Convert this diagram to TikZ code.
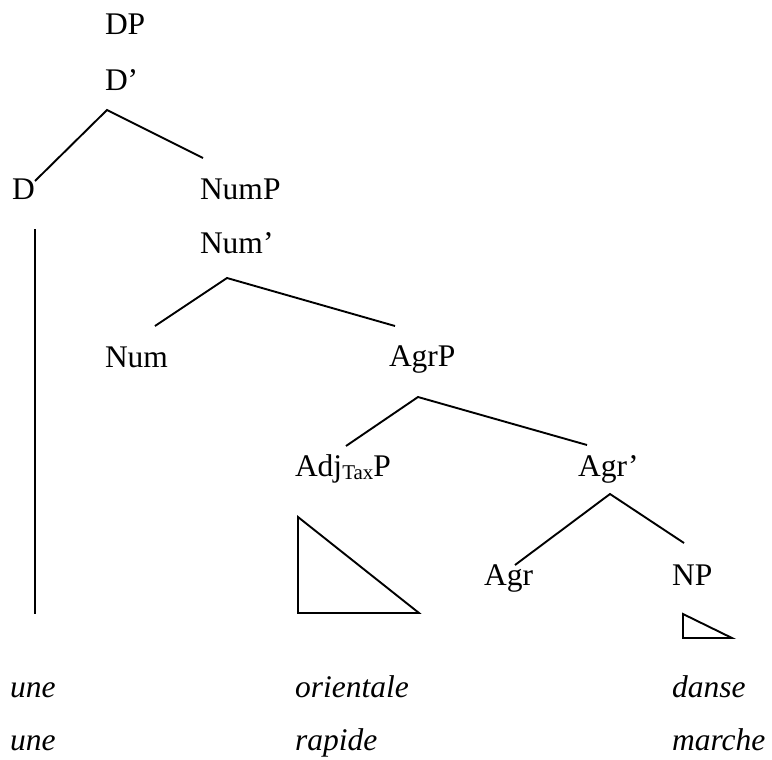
\documentclass[tikz,border=0pt]{standalone}
\usepackage{fontspec}
\setmainfont{Liberation Serif}
\begin{document}
\begin{tikzpicture}[x=1bp,y=-1bp,
  lbl/.style={anchor=base west,inner sep=0pt,outer sep=0pt,font=\fontsize{31.5bp}{36bp}\selectfont},
  word/.style={lbl,font=\fontsize{31.5bp}{36bp}\selectfont\itshape},
  branch/.style={line width=1.9bp,line cap=butt,line join=miter},
  tri/.style={line width=1.9bp,line join=miter}]
\useasboundingbox (0,0) rectangle (772,760);
% labels
\node[lbl] (DP) at (105,35) {DP};
\node[lbl] (Dbar) at (105,90) {D’};
\node[lbl] (D) at (12,199) {D};
\node[lbl] (NumP) at (200,199) {NumP};
\node[lbl] (Numbar) at (200,253) {Num’};
\node[lbl] (Num) at (105,367) {Num};
\node[lbl] (AgrP) at (389,366) {AgrP};
\node[lbl] (Adj) at (295,476) {Adj\raisebox{-3.5bp}{\fontsize{21bp}{21bp}\selectfont Tax}P};
\node[lbl] (Agrbar) at (578,476) {Agr’};
\node[lbl] (Agr) at (484,585) {Agr};
\node[lbl] (NP) at (672,585) {NP};
% words
\node[word] (une1) at (10,697) {une};
\node[word] (orientale) at (295,697) {orientale};
\node[word] (danse) at (672,697) {danse};
\node[word] (une2) at (10,750) {une};
\node[word] (rapide) at (295,750) {rapide};
\node[word] (marche) at (672,750) {marche};
% branch points
\coordinate (a1) at (107,110);
\coordinate (a1l) at (35,181);
\coordinate (a1r) at (203,158);
\coordinate (vt) at (35,229);
\coordinate (vb) at (35,614);
\coordinate (a2) at (227,278);
\coordinate (a2l) at (155,326);
\coordinate (a2r) at (395,326);
\coordinate (a3) at (418,397);
\coordinate (a3l) at (346,446);
\coordinate (a3r) at (587,445);
\coordinate (a4) at (610,494);
\coordinate (a4l) at (515,565);
\coordinate (a4r) at (684,543);
\coordinate (t1a) at (298,517);
\coordinate (t1b) at (298,613);
\coordinate (t1c) at (419,613);
\coordinate (t2a) at (683,614);
\coordinate (t2b) at (683,638);
\coordinate (t2c) at (732,638);
% connectors
\draw[branch] (a1l) -- (a1) -- (a1r);
\draw[branch] (vt) -- (vb);
\draw[branch] (a2l) -- (a2) -- (a2r);
\draw[branch] (a3l) -- (a3) -- (a3r);
\draw[branch] (a4l) -- (a4) -- (a4r);
\draw[tri] (t1a) -- (t1b) -- (t1c) -- cycle;
\draw[tri] (t2a) -- (t2b) -- (t2c) -- cycle;
\end{tikzpicture}
\end{document}
